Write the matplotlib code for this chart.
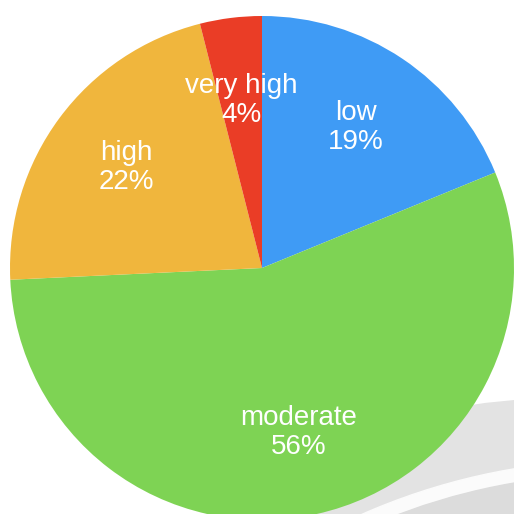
import matplotlib.pyplot as plt
from matplotlib.patches import Circle, Wedge

categories = ["low", "moderate", "high", "very high"]
percents = [19, 56, 22, 4]
colors = ["#3f9bf5", "#7ed354", "#f0b63d", "#ea3d26"]

W = H = 514

fig = plt.figure(figsize=(5.14, 5.14), dpi=100)
ax = fig.add_axes([0, 0, 1, 1])
ax.set_xlim(0, W)
ax.set_ylim(0, H)
ax.set_aspect("equal")
ax.axis("off")

# light grey swoosh in the lower right corner, sitting behind the pie
ax.add_patch(Circle((560, H - 1000), 601, color="#e3e3e3", zorder=0))
ax.add_patch(Wedge((620, H - 1100), 640, 0, 360, width=14, color="#fbfbfb", zorder=1))
ax.add_patch(Circle((620, H - 1100), 626, color="#dcdcdc", zorder=1))

labels = [f"{c}\n{p}%" for c, p in zip(categories, percents)]
wedges, texts = ax.pie(
    percents,
    labels=labels,
    colors=colors,
    startangle=90,
    counterclock=False,
    center=(262, H - 268),
    radius=252,
    labeldistance=0.67,
    frame=True,
    wedgeprops=dict(linewidth=0, zorder=2),
    textprops=dict(color="white", fontsize=20, family="Liberation Sans",
                   ha="center", va="center", linespacing=1.15),
)
for t in texts:
    t.set_zorder(3)

ax.set_xlim(0, W)
ax.set_ylim(0, H)
ax.axis("off")

fig.savefig("out.png", dpi=100)
